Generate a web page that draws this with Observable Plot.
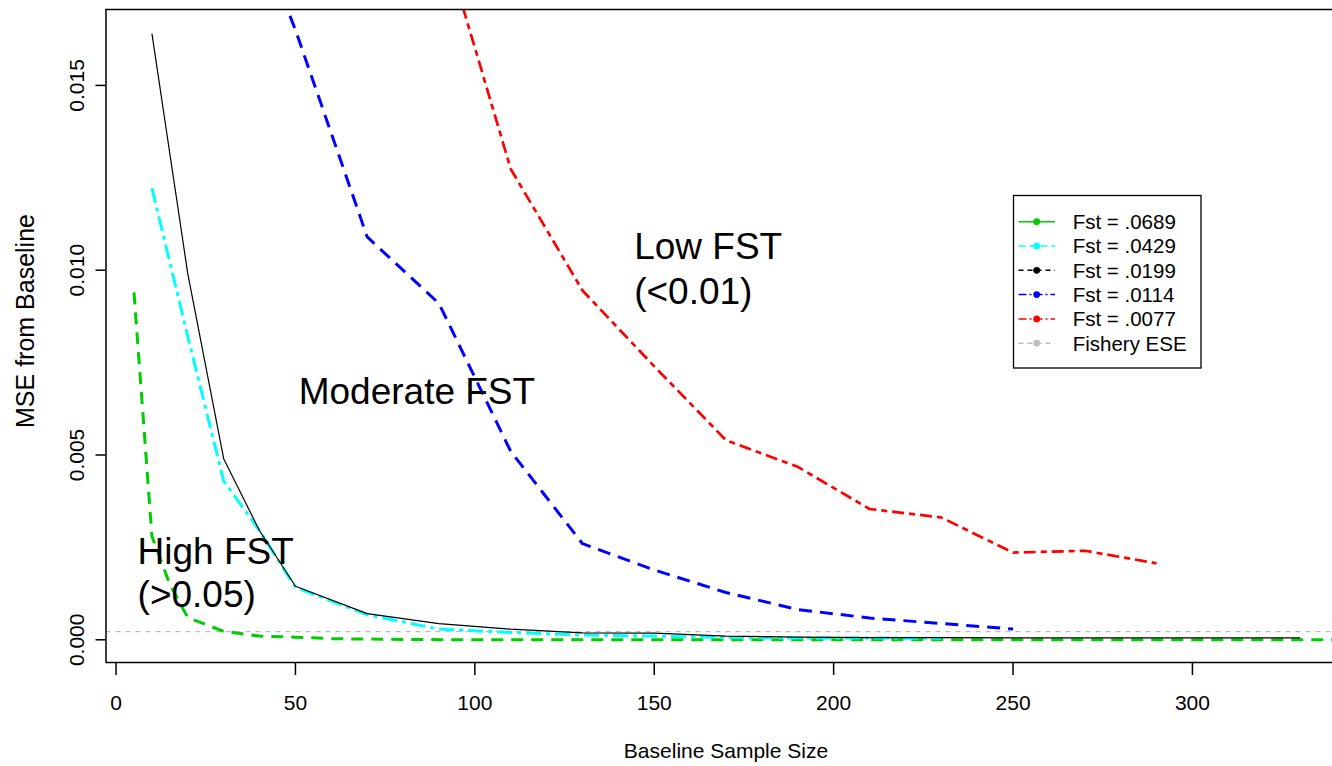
<!DOCTYPE html>
<html><head><meta charset="utf-8">
<script src="https://cdn.jsdelivr.net/npm/d3@7"></script>
<script src="https://cdn.jsdelivr.net/npm/@observablehq/plot@0.6"></script>
<style>
html,body{margin:0;padding:0;background:#fff;}
#wrap{position:relative;width:1332px;height:766px;overflow:hidden;font-family:"Liberation Sans",Arial,Helvetica,sans-serif;}
#legend{position:absolute;left:0;top:0;pointer-events:none;}
</style></head><body><div id="wrap"></div>
<script>
// ---- data ----
const seriesNames  = ["Fst = .0689", "Fst = .0429", "Fst = .0199", "Fst = .0114", "Fst = .0077", "Fishery ESE"];
const seriesColors = ["#00cd00", "#00ffff", "#000000", "#0000ff", "#ff0000", "#bebebe"];

const greenSizes = [5, 10, 15, 20, 30, 40, 50, 60, 80, 100, 150, 200, 250, 300, 340];
const greenMSE   = [0.0094, 0.0028, 0.0015, 0.0006, 0.00023, 0.0001, 0.00007, 0.00003, 0.00001, 0, 0, 0, 0, 0, 0];

const cyanSizes = [10, 20, 30, 40, 50, 70, 90, 110, 130, 150, 170, 190, 210, 230];
const cyanMSE   = [0.01222, 0.0082, 0.0043, 0.00295, 0.00142, 0.00068, 0.00029, 0.0002, 0.00013, 0.0001, 0.00006, 0.00005, 0.00005, 0.00004];

const blackSizes = [10, 20, 30, 40, 50, 70, 90, 110, 130, 150, 170, 190, 210, 230, 250, 270, 290, 310, 330];
const blackMSE   = [0.0164, 0.0099, 0.0049, 0.00295, 0.00145, 0.00071, 0.00044, 0.00029, 0.00019, 0.00018, 0.0001, 0.00007, 0.00006, 0.00006, 0.00005, 0.00005, 0.00005, 0.00005, 0.00005];

const blueSizes = [40, 50, 70, 90, 110, 130, 150, 170, 190, 210, 230, 250];
const blueMSE   = [0.0190, 0.0165, 0.0109, 0.0091, 0.0051, 0.0026, 0.00189, 0.00128, 0.00082, 0.00059, 0.00044, 0.00029];

const redSizes = [90, 110, 130, 150, 170, 190, 210, 230, 250, 270, 290];
const redMSE   = [0.0193, 0.01274, 0.00945, 0.0074, 0.0054, 0.00468, 0.00354, 0.00331, 0.00236, 0.00241, 0.00207];

const eseValue = 0.00022;

const xTicks = [0, 50, 100, 150, 200, 250, 300];
const yTicks = [0, 0.005, 0.010, 0.015];
const yTickLabels = ["0.000", "0.005", "0.010", "0.015"];

const xTitle = "Baseline Sample Size";
const yTitle = "MSE from Baseline";

const annotations = [
  {x: 6.0, y: 0.00206, text: "High FST"},
  {x: 6.0, y: 0.00090, text: "(>0.05)"},
  {x: 50.9, y: 0.00637, text: "Moderate FST"},
  {x: 144.4, y: 0.01031, text: "Low FST"},
  {x: 144.4, y: 0.00909, text: "(<0.01)"}
];

const xDomain = [-2.8, 342.8];
const yDomain = [-0.000614, 0.017054];

// ---- build ----
const rows = (xs, ys) => xs.map((x, i) => ({x, y: ys[i]}));
const font = "Liberation Sans, Arial, Helvetica, sans-serif";

const lineStyles = [
  {data: rows(greenSizes, greenMSE), stroke: seriesColors[0], strokeWidth: 3, dash: "12,8"},
  {data: rows(cyanSizes, cyanMSE), stroke: seriesColors[1], strokeWidth: 3, dash: "15,5,4,5"},
  {data: rows(blackSizes, blackMSE), stroke: seriesColors[2], strokeWidth: 1.2, dash: null},
  {data: rows(blueSizes, blueMSE), stroke: seriesColors[3], strokeWidth: 3, dash: "13,8"},
  {data: rows(redSizes, redMSE), stroke: seriesColors[4], strokeWidth: 2.7, dash: "12,5,6,5"}
];

const chart = Plot.plot({
  width: 1332, height: 766,
  marginLeft: 105.5, marginRight: 0, marginTop: 9, marginBottom: 104,
  style: {fontFamily: font, fontSize: "21px", background: "white", color: "black"},
  x: {domain: xDomain, range: [105.5, 1345.5]},
  y: {domain: yDomain, range: [662, 9]},
  marks: [
    Plot.ruleY([eseValue], {stroke: seriesColors[5], strokeWidth: 1.3, strokeDasharray: "5,5"}),
    ...lineStyles.map(s => Plot.line(s.data, {x: "x", y: "y", stroke: s.stroke, strokeWidth: s.strokeWidth,
        strokeDasharray: s.dash, strokeLinejoin: "round", strokeLinecap: "butt", clip: true})),
    // plot box (right side lies beyond the picture)
    Plot.ruleY(yDomain, {stroke: "black", strokeWidth: 1.5}),
    Plot.ruleX([xDomain[0]], {stroke: "black", strokeWidth: 1.5}),
    Plot.axisX(xTicks, {tickSize: 13, tickPadding: 20, fontSize: 21, label: null, strokeWidth: 1.5}),
    Plot.axisY(yTicks, {tickSize: 10, tickFormat: () => "", label: null, strokeWidth: 1.5}),
    Plot.text(yTicks, {y: d => d, text: (d, i) => yTickLabels[i], frameAnchor: "left", dx: -22.5,
        rotate: -90, textAnchor: "middle", lineAnchor: "bottom", fontSize: 21}),
    Plot.text([xTitle], {frameAnchor: "bottom", dx: 6.75, dy: 95, lineAnchor: "bottom", fontSize: 21}),
    Plot.text([yTitle], {frameAnchor: "left", dx: -72, dy: -15, rotate: -90, textAnchor: "middle", lineAnchor: "bottom", fontSize: 25}),
    Plot.text(annotations, {x: "x", y: "y", text: "text", textAnchor: "start", lineAnchor: "bottom", fontSize: 37})
  ]
});
const wrap = document.getElementById("wrap");
wrap.appendChild(chart);

// ---- legend (inside the plot area, top right) ----
const legendStyles = [
  {dash: null}, {dash: "7,4"}, {dash: "5,4"}, {dash: "8,3,2,3"}, {dash: "8,3,2,3"}, {dash: "5,4"}
];
const svg = d3.select(wrap).append("svg").attr("id", "legend")
  .attr("width", 1332).attr("height", 766);
svg.append("rect").attr("x", 1013.5).attr("y", 195.5).attr("width", 187.5).attr("height", 172.5)
  .attr("fill", "white").attr("stroke", "black").attr("stroke-width", 1.3);
seriesNames.forEach((name, i) => {
  const y = 221.7 + i * 24.3;
  const g = svg.append("g");
  g.append("line").attr("x1", 1018.5).attr("x2", 1055).attr("y1", y).attr("y2", y)
    .attr("stroke", seriesColors[i]).attr("stroke-width", 1.5)
    .attr("stroke-dasharray", legendStyles[i].dash);
  g.append("circle").attr("cx", 1036.7).attr("cy", y).attr("r", 3.4).attr("fill", seriesColors[i]);
  g.append("text").attr("x", 1072.7).attr("y", y).attr("dy", "0.36em")
    .attr("font-family", font).attr("font-size", 20.5).attr("fill", "black").text(name);
});
</script></body></html>
